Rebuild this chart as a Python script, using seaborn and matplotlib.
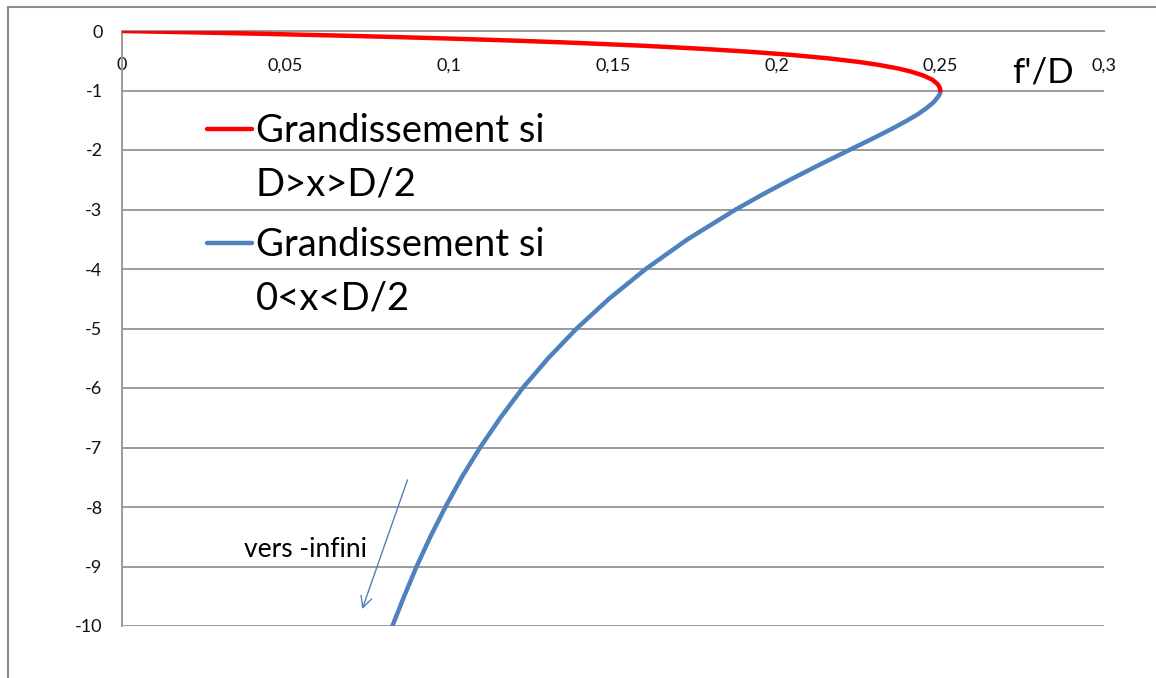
import matplotlib
matplotlib.use("Agg")
import matplotlib.pyplot as plt
import seaborn as sns
import pandas as pd
from matplotlib.lines import Line2D

# ---- data ----
red_f = [0.0, 0.0192, 0.0454, 0.0686, 0.0826, 0.1018, 0.1216, 0.139, 0.160,
         0.1775, 0.1920, 0.2041, 0.2158, 0.2251, 0.2312, 0.2371, 0.2409,
         0.2449, 0.2476, 0.2493, 0.2498, 0.250]
red_g = [0.0, -0.02, -0.05, -0.08, -0.10, -0.13, -0.165, -0.20, -0.25,
         -0.30, -0.35, -0.40, -0.46, -0.52, -0.57, -0.63, -0.68,
         -0.75, -0.82, -0.90, -0.95, -1.0]
blue_f = [0.250, 0.2499, 0.2494, 0.2479, 0.2457, 0.2431, 0.240, 0.2350,
          0.2296, 0.2222, 0.2130, 0.2041, 0.1956, 0.1875, 0.1728, 0.160,
          0.1488, 0.1389, 0.1302, 0.1224, 0.1156, 0.1094, 0.1038, 0.0988,
          0.0942, 0.090, 0.0862, 0.0826]
blue_g = [-1.0, -1.05, -1.1, -1.2, -1.3, -1.4, -1.5, -1.65,
          -1.8, -2.0, -2.25, -2.5, -2.75, -3.0, -3.5, -4.0,
          -4.5, -5.0, -5.5, -6.0, -6.5, -7.0, -7.5, -8.0,
          -8.5, -9.0, -9.5, -10.0]
x_ticks = [0, 0.05, 0.1, 0.15, 0.2, 0.25, 0.3]
x_tick_labels = ["0", "0,05", "0,1", "0,15", "0,2", "0,25", "0,3"]
y_ticks = list(range(-10, 1))
label_red = ["Grandissement si", "D>x>D/2"]
label_blue = ["Grandissement si", "0<x<D/2"]

RED = "#FF0000"
BLUE = "#4F81BD"
GRID = "#9a9a9a"

sns.set_theme(style="white")
plt.rcParams["font.family"] = ["Lato", "DejaVu Sans"]
plt.rcParams["axes.unicode_minus"] = False
plt.rcParams["text.color"] = "black"
plt.rcParams["legend.labelcolor"] = "black"

W, H = 1156, 678
fig = plt.figure(figsize=(W / 100, H / 100), dpi=100)
ax = fig.add_axes([122 / W, 1 - 626 / H, 982 / W, 595 / H])

df_red = pd.DataFrame({"f": red_f, "g": red_g})
df_blue = pd.DataFrame({"f": blue_f, "g": blue_g})
sns.lineplot(data=df_red, x="f", y="g", sort=False, estimator=None,
             color=RED, linewidth=3.2, ax=ax, zorder=4)
sns.lineplot(data=df_blue, x="f", y="g", sort=False, estimator=None,
             color=BLUE, linewidth=3.2, ax=ax, zorder=3)

ax.set_xlim(0, 0.3)
ax.set_ylim(-10, 0)
ax.set_xticks(x_ticks)
ax.set_xticklabels(x_tick_labels)
ax.set_yticks(y_ticks)
ax.set_yticklabels([str(v) for v in y_ticks])
ax.set_xlabel("")
ax.set_ylabel("")

ax.yaxis.grid(True, color=GRID, linewidth=1.4)
ax.xaxis.grid(False)
for s in ["top", "right"]:
    ax.spines[s].set_visible(False)
ax.spines["bottom"].set_position(("data", 0))
ax.spines["bottom"].set_color(GRID)
ax.spines["bottom"].set_linewidth(1.4)
ax.spines["left"].set_color(GRID)
ax.spines["left"].set_linewidth(1.4)
ax.tick_params(axis="x", length=0, pad=19, labelsize=13, labelcolor="#111111")
ax.tick_params(axis="y", length=0, pad=14, labelsize=13, labelcolor="#111111")

# legends (two groups, handle aligned with first line)
def make_legend(color, labels, top_px):
    handles = [Line2D([], [], color=color, linewidth=3.2),
               Line2D([], [], linestyle="none")]
    return ax.legend(handles, labels, loc="upper left",
                     bbox_to_anchor=(207 / W, 1 - top_px / H),
                     bbox_transform=fig.transFigure, frameon=False,
                     fontsize=27.5, borderpad=0, borderaxespad=0,
                     handlelength=1.18, handletextpad=0.1, labelspacing=0.47,
                     labelcolor="black")

leg1 = make_legend(RED, label_red, 113)
ax.add_artist(leg1)
leg2 = make_legend(BLUE, label_blue, 227)

# axis title
fig.text(1012 / W, 1 - 82 / H, "f'/D", fontsize=25, va="baseline", ha="left",
         color="black")

# annotation arrow
ax.annotate("", xy=(0.0731, -9.76), xytext=(0.0875, -7.50),
            arrowprops=dict(arrowstyle="->", color=BLUE, lw=1.0,
                            mutation_scale=20))
ax.text(0.056, -8.72, "vers -infini", fontsize=19, ha="center", va="center",
        color="black")

# outer chart frame (left and top edges visible)
fig.add_artist(Line2D([8 / W, 8 / W], [0, 1 - 7 / H], color="#8c8c8c",
                      linewidth=1.5, transform=fig.transFigure))
fig.add_artist(Line2D([8 / W, 1], [1 - 7 / H, 1 - 7 / H], color="#8c8c8c",
                      linewidth=1.5, transform=fig.transFigure))

fig.savefig("out.png", dpi=100, facecolor="white")
